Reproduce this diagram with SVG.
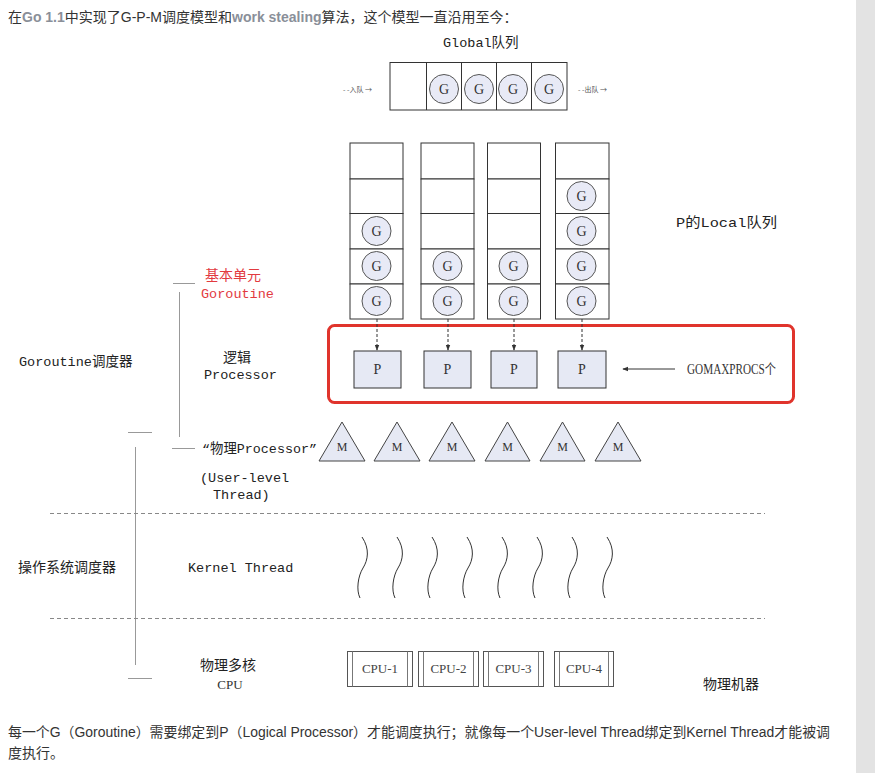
<svg xmlns="http://www.w3.org/2000/svg" width="875" height="773" viewBox="0 0 875 773">
  <defs>
    <style>
      .sans { font-family: "Liberation Sans", "Noto Sans CJK SC", sans-serif; fill: #333; }
      .mono { font-family: "Liberation Mono", "Noto Sans CJK SC", monospace; fill: #222; font-size: 13.5px; }
      .cjk { font-family: "Noto Sans CJK SC", sans-serif; fill: #222; font-size: 14px; }
      .serif { font-family: "Liberation Serif", "Noto Sans CJK SC", serif; fill: #333; }
      .red { fill: #e23a3f; }
      .cell { fill: #fff; stroke: #333; stroke-width: 1; }
      .proc rect { fill: #e6e9f4; stroke: #333; stroke-width: 1; }
      .proc text { font-family: "Liberation Serif", serif; font-size: 14px; fill: #333; text-anchor: middle; }
      .m polygon { fill: #e6e9f4; stroke: #444; stroke-width: 1; }
      .m text { font-family: "Liberation Serif", serif; font-size: 12px; fill: #333; text-anchor: middle; }
      .cpu rect { fill: #fff; stroke: #555; stroke-width: 1; }
      .cpu line { stroke: #777; stroke-width: 1; }
      .cpu text { font-family: "Liberation Serif", serif; font-size: 13px; fill: #444; text-anchor: middle; }
      .guide { stroke: #999; stroke-width: 1; fill: none; }
      .sep { stroke: #888; stroke-width: 1; stroke-dasharray: 4 3; }
      .wave { stroke: #333; stroke-width: 1; fill: none; }
      .link { stroke: #333; stroke-width: 1; stroke-dasharray: 3 2; fill: none; }
    </style>
    <marker id="arrow" viewBox="0 0 8 8" refX="7" refY="4" markerWidth="6" markerHeight="6" orient="auto">
      <path d="M0,1 L8,4 L0,7 Z" fill="#333"/>
    </marker>
    <!-- goroutine token -->
    <symbol id="gcirc" overflow="visible">
      <circle cx="0" cy="0" r="14.5" fill="#e8eaf6" stroke="#555" stroke-width="1"/>
      <text x="0" y="5" font-family="Liberation Serif, serif" font-size="14" fill="#333" text-anchor="middle">G</text>
    </symbol>
  </defs>

  <!-- page background and side strip -->
  <rect x="0" y="0" width="875" height="773" fill="#fff"/>
  <rect x="856" y="0" width="19" height="773" fill="#e3e3e3"/>

  <!-- intro sentence -->
  <text class="sans" x="8" y="22" font-size="14">在<tspan fill="#8a8f99" font-weight="bold">Go 1.1</tspan>中实现了G-P-M调度模型和<tspan fill="#8a8f99" font-weight="bold">work stealing</tspan>算法，这个模型一直沿用至今：</text>

  <!-- global run queue -->
  <g id="global-queue">
    <text class="mono" x="443" y="47">Global队列</text>
    <rect class="cell" x="390" y="62.5" width="177" height="47.5"/>
    <line x1="426.5" y1="62.5" x2="426.5" y2="110" stroke="#333"/>
    <line x1="461.5" y1="62.5" x2="461.5" y2="110" stroke="#333"/>
    <line x1="496.5" y1="62.5" x2="496.5" y2="110" stroke="#333"/>
    <line x1="531.5" y1="62.5" x2="531.5" y2="110" stroke="#333"/>
    <use href="#gcirc" x="444" y="89"/>
    <use href="#gcirc" x="479" y="89"/>
    <use href="#gcirc" x="513" y="89"/>
    <use href="#gcirc" x="549" y="89"/>
    <text x="343" y="92" font-family="Noto Sans CJK SC, sans-serif" font-size="7" fill="#555">- -入队 →</text>
    <text x="578" y="92" font-family="Noto Sans CJK SC, sans-serif" font-size="7" fill="#555">- -出队 →</text>
  </g>

  <!-- local run queues -->
  <g id="local-queue-1">
    <rect class="cell" x="350" y="143" width="53" height="36"/>
    <rect class="cell" x="350" y="179" width="53" height="34.5"/>
    <rect class="cell" x="350" y="213.5" width="53" height="35.5"/>
    <rect class="cell" x="350" y="249" width="53" height="35"/>
    <rect class="cell" x="350" y="284" width="53" height="35"/>
    <use href="#gcirc" x="376.5" y="231"/>
    <use href="#gcirc" x="376.5" y="266"/>
    <use href="#gcirc" x="376.5" y="301"/>
  </g>
  <g id="local-queue-2">
    <rect class="cell" x="421" y="143" width="53" height="36"/>
    <rect class="cell" x="421" y="179" width="53" height="34.5"/>
    <rect class="cell" x="421" y="213.5" width="53" height="35.5"/>
    <rect class="cell" x="421" y="249" width="53" height="35"/>
    <rect class="cell" x="421" y="284" width="53" height="35"/>
    <use href="#gcirc" x="447.5" y="266"/>
    <use href="#gcirc" x="447.5" y="301"/>
  </g>
  <g id="local-queue-3">
    <rect class="cell" x="487.5" y="143" width="53" height="36"/>
    <rect class="cell" x="487.5" y="179" width="53" height="34.5"/>
    <rect class="cell" x="487.5" y="213.5" width="53" height="35.5"/>
    <rect class="cell" x="487.5" y="249" width="53" height="35"/>
    <rect class="cell" x="487.5" y="284" width="53" height="35"/>
    <use href="#gcirc" x="513.5" y="266"/>
    <use href="#gcirc" x="513.5" y="301"/>
  </g>
  <g id="local-queue-4">
    <rect class="cell" x="555.5" y="143" width="53.5" height="36"/>
    <rect class="cell" x="555.5" y="179" width="53.5" height="34.5"/>
    <rect class="cell" x="555.5" y="213.5" width="53.5" height="35.5"/>
    <rect class="cell" x="555.5" y="249" width="53.5" height="35"/>
    <rect class="cell" x="555.5" y="284" width="53.5" height="35"/>
    <use href="#gcirc" x="581.5" y="196"/>
    <use href="#gcirc" x="581.5" y="231"/>
    <use href="#gcirc" x="581.5" y="266"/>
    <use href="#gcirc" x="581.5" y="301"/>
  </g>
  <text class="mono" x="676" y="227" textLength="101" lengthAdjust="spacingAndGlyphs">P的Local队列</text>

  <!-- logical processors -->
  <rect id="gomaxprocs-frame" x="328.5" y="325.5" width="465" height="77" rx="6" fill="none" stroke="#e0342c" stroke-width="3"/>
  <g id="p1" class="proc"><rect x="354" y="351" width="47" height="37"/><text x="377.5" y="374">P</text></g>
  <g id="p2" class="proc"><rect x="424" y="351" width="47" height="37"/><text x="447.5" y="374">P</text></g>
  <g id="p3" class="proc"><rect x="491" y="351" width="46" height="37"/><text x="514" y="374">P</text></g>
  <g id="p4" class="proc"><rect x="558" y="351" width="48" height="37"/><text x="582" y="374">P</text></g>
  <text class="serif" x="687" y="374" font-size="14" textLength="89" lengthAdjust="spacingAndGlyphs">GOMAXPROCS个</text>

  <!-- machine threads -->
  <g id="m1" class="m"><polygon points="342,422 319,461 365,461"/><text x="342" y="451">M</text></g>
  <g id="m2" class="m"><polygon points="397,422 374,461 420,461"/><text x="397" y="451">M</text></g>
  <g id="m3" class="m"><polygon points="452,422 429,461 475,461"/><text x="452" y="451">M</text></g>
  <g id="m4" class="m"><polygon points="507.5,422 485,461 530,461"/><text x="507.5" y="451">M</text></g>
  <g id="m5" class="m"><polygon points="562.5,422 540,461 585,461"/><text x="562.5" y="451">M</text></g>
  <g id="m6" class="m"><polygon points="618,422 595,461 641,461"/><text x="618" y="451">M</text></g>

  <!-- connectors -->
  <g id="connectors">
    <line class="link" x1="377" y1="319" x2="377" y2="350" marker-end="url(#arrow)"/>
    <line class="link" x1="448" y1="319" x2="448" y2="350" marker-end="url(#arrow)"/>
    <line class="link" x1="514" y1="319" x2="514" y2="350" marker-end="url(#arrow)"/>
    <line class="link" x1="582" y1="319" x2="582" y2="350" marker-end="url(#arrow)"/>
    <line x1="675" y1="369" x2="623" y2="369" stroke="#333" stroke-width="1" marker-end="url(#arrow)"/>
  </g>

  <!-- layer labels and brackets -->
  <g id="labels">
    <line class="guide" x1="173" y1="283.5" x2="195" y2="283.5"/>
    <line class="guide" x1="179.5" y1="292" x2="179.5" y2="437"/>
    <text class="cjk red" x="205" y="280">基本单元</text>
    <text class="mono red" x="201" y="298">Goroutine</text>
    <text class="mono" x="19" y="366">Goroutine调度器</text>
    <text class="cjk" x="223" y="362">逻辑</text>
    <text class="mono" x="204" y="379">Processor</text>
    <line class="guide" x1="128" y1="432.5" x2="152" y2="432.5"/>
    <line class="guide" x1="135.5" y1="447" x2="135.5" y2="665"/>
    <line class="guide" x1="172" y1="448.5" x2="195" y2="448.5"/>
    <line class="guide" x1="128" y1="678.5" x2="152" y2="678.5"/>
    <text class="mono" x="202" y="453" textLength="115" lengthAdjust="spacingAndGlyphs">“物理Processor”</text>
    <text class="mono" x="200" y="482" font-size="13">(User-level</text>
    <text class="mono" x="213" y="499" font-size="13">Thread)</text>
    <text class="cjk" x="18" y="572">操作系统调度器</text>
    <text class="mono" x="188" y="572" font-size="12.5">Kernel Thread</text>
    <text class="cjk" x="200" y="670">物理多核</text>
    <text class="serif" x="230" y="689" font-size="13" text-anchor="middle">CPU</text>
    <text class="cjk" x="703" y="689">物理机器</text>
  </g>

  <!-- layer separators -->
  <line class="sep" x1="50" y1="513.5" x2="765" y2="513.5"/>
  <line class="sep" x1="50" y1="618.5" x2="765" y2="618.5"/>

  <!-- kernel threads -->
  <g id="kernel-threads">
    <path class="wave" d="M362,537 C370,549 368,560 363,568 S356,590 360,598"/>
    <path class="wave" d="M397,537 C405,549 403,560 398,568 S391,590 395,598"/>
    <path class="wave" d="M432,537 C440,549 438,560 433,568 S426,590 430,598"/>
    <path class="wave" d="M467,537 C475,549 473,560 468,568 S461,590 465,598"/>
    <path class="wave" d="M502,537 C510,549 508,560 503,568 S496,590 500,598"/>
    <path class="wave" d="M537,537 C545,549 543,560 538,568 S531,590 535,598"/>
    <path class="wave" d="M572,537 C580,549 578,560 573,568 S566,590 570,598"/>
    <path class="wave" d="M607,537 C615,549 613,560 608,568 S601,590 605,598"/>
  </g>

  <!-- CPU cores -->
  <g id="cpu1" class="cpu"><rect x="347.5" y="651.5" width="65" height="35"/><line x1="352.5" y1="651.5" x2="352.5" y2="686.5"/><line x1="407.5" y1="651.5" x2="407.5" y2="686.5"/><text x="380" y="673">CPU-1</text></g>
  <g id="cpu2" class="cpu"><rect x="418.5" y="651.5" width="60" height="35"/><line x1="423.5" y1="651.5" x2="423.5" y2="686.5"/><line x1="473.5" y1="651.5" x2="473.5" y2="686.5"/><text x="448.5" y="673">CPU-2</text></g>
  <g id="cpu3" class="cpu"><rect x="483.5" y="651.5" width="60" height="35"/><line x1="488.5" y1="651.5" x2="488.5" y2="686.5"/><line x1="538.5" y1="651.5" x2="538.5" y2="686.5"/><text x="513.5" y="673">CPU-3</text></g>
  <g id="cpu4" class="cpu"><rect x="554.5" y="651.5" width="59" height="35"/><line x1="559.5" y1="651.5" x2="559.5" y2="686.5"/><line x1="608.5" y1="651.5" x2="608.5" y2="686.5"/><text x="584" y="673">CPU-4</text></g>

  <!-- closing note -->
  <text class="sans" x="8" y="737" font-size="14" textLength="822" lengthAdjust="spacingAndGlyphs">每一个G（Goroutine）需要绑定到P（Logical Processor）才能调度执行；就像每一个User-level Thread绑定到Kernel Thread才能被调</text>
  <text class="sans" x="8" y="758" font-size="14">度执行。</text>
</svg>
